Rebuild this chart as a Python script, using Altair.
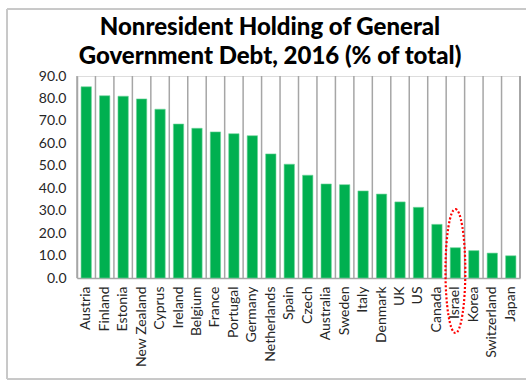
import altair as alt
import pandas as pd

countries = ["Austria", "Finland", "Estonia", "New Zealand", "Cyprus", "Ireland",
             "Belgium", "France", "Portugal", "Germany", "Netherlands", "Spain",
             "Czech", "Australia", "Sweden", "Italy", "Denmark", "UK", "US",
             "Canada", "Israel", "Korea", "Switzerland", "Japan"]
values = [85.2, 81.2, 81.0, 79.8, 75.2, 68.6, 66.7, 65.1, 64.3, 63.4, 55.3, 50.7,
          45.8, 41.9, 41.6, 38.8, 37.4, 33.9, 31.5, 23.9, 13.5, 12.2, 11.1, 9.9]
highlight = ["Israel"]
title_lines = ["Nonresident Holding of General", "Government Debt, 2016 (% of total)"]

df = pd.DataFrame({"country": countries, "value": values})
hl = pd.DataFrame({"country": highlight})
t1 = pd.DataFrame({"t": [title_lines[0]]})
t2 = pd.DataFrame({"t": [title_lines[1]]})

W, H = 443, 202
FONT = "Lato"

xenc = alt.X("country:N", sort=countries, title=None,
             scale=alt.Scale(paddingInner=0, paddingOuter=0),
             axis=alt.Axis(labelAngle=-90, ticks=False, domain=True,
                           domainColor="#a6a6a6", domainWidth=1.5,
                           labelFont=FONT, labelFontSize=14, labelColor="#262626",
                           labelPadding=8, labelBaseline="middle", labelAlign="right"))

frame = alt.Chart(df).mark_rect(fill=None, stroke="#c8c8c8", strokeWidth=1).encode(
    x=alt.value(-70), x2=alt.value(W + 20), y=alt.value(-67), y2=alt.value(H + 101)
)

grid = alt.Chart(df).mark_rule(color="#a6a6a6", strokeWidth=1.5).encode(
    x=alt.X("country:N", sort=countries, bandPosition=0),
    y=alt.value(0), y2=alt.value(H)
)
right_edge = alt.Chart(df).mark_rule(color="#a6a6a6", strokeWidth=1.5).encode(
    x=alt.value(W), y=alt.value(0), y2=alt.value(H)
)

bars = alt.Chart(df).mark_bar(
    color="#00B050", width=alt.RelativeBandSize(0.56),
    stroke="#6fd49a", strokeWidth=0.6
).encode(
    x=xenc,
    y=alt.Y("value:Q", title=None,
            scale=alt.Scale(domain=[0, 90], nice=False),
            axis=alt.Axis(values=list(range(0, 91, 10)), format=".1f", grid=False,
                          ticks=False, domain=True, domainColor="#a6a6a6",
                          domainWidth=1.5, labelFont=FONT, labelFontSize=14,
                          labelColor="#262626", labelPadding=11)),
)

ellipse = alt.Chart(hl).mark_point(
    shape="M0,-1 A0.16,1 0 1,1 0,1 A0.16,1 0 1,1 0,-1 Z",
    size=15376, filled=False, color="#ff0000", strokeWidth=2.2,
    strokeDash=[2, 2], opacity=1
).encode(
    x=alt.X("country:N", sort=countries),
    y=alt.value(195)
)

title_style = dict(font=FONT, fontSize=24, fontWeight=900, color="#000000",
                   align="center", baseline="alphabetic")
title1 = alt.Chart(t1).mark_text(**title_style).encode(
    text="t:N", x=alt.value(193), y=alt.value(-41))
title2 = alt.Chart(t2).mark_text(**title_style).encode(
    text="t:N", x=alt.value(193), y=alt.value(-12))

chart = alt.layer(frame, grid, right_edge, bars, ellipse, title1, title2).properties(
    width=W, height=H,
    autosize=alt.AutoSizeParams(type="none"),
    padding={"left": 77, "top": 76, "right": 6, "bottom": 103}
).configure_view(stroke=None).configure(background="white")

chart.save("out.html", embed_options={"renderer": "svg", "actions": False})
